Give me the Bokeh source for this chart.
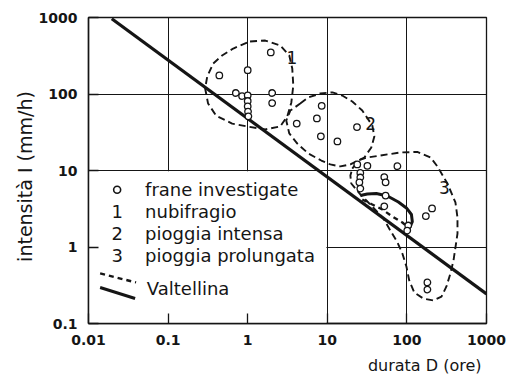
from bokeh.plotting import figure
from bokeh.models import FixedTicker, Title
from bokeh.core.properties import value
from bokeh.embed import file_html
from bokeh.resources import INLINE

FONT = "DejaVu Sans"
INK = "#151515"

# Investigated landslides: rainfall duration D (hours) and intensity I (mm/h)
frane_D = [0.44, 1.0, 1.95, 0.71, 0.85, 1.0, 1.0, 1.0, 1.01, 1.02, 2.03, 2.03,
           4.13, 7.4, 8.5, 8.3, 13.4, 23.6,
           23.8, 31.9, 26, 26, 25.3, 26, 52, 54, 76, 54, 52,
           104, 101, 173, 207, 181, 181]
frane_I = [175, 205, 350, 103, 94, 96, 81, 69, 59, 51, 103, 76,
           41, 48, 70, 28, 24, 37,
           12.0, 11.5, 9.3, 8.1, 7.0, 5.8, 8.2, 7.0, 11.4, 4.7, 3.4,
           1.91, 1.64, 2.54, 3.19, 0.344, 0.278]

# Threshold line I(D)
soglia_D = [0.0196, 1000]
soglia_I = [962, 0.244]

# Envelope 1: nubifragio
nubifragio_D = [1.07, 1.66, 2.56, 3.33, 3.63, 3.74, 3.53, 3.14, 2.56, 1.66, 0.986,
                0.638, 0.402, 0.318, 0.292, 0.310, 0.368, 0.477, 0.658, 1.07]
nubifragio_I = [486, 500, 431, 319, 215, 129, 77, 51, 37.6, 34.4, 37.6,
                41, 52, 75, 118, 169, 250, 319, 393, 486]

# Envelope 2: pioggia intensa
intensa_D = [4.57, 5.77, 8.17, 11.6, 15.4, 20.6, 27.5, 36.8, 39.0, 35.7, 29.2,
             19.5, 14.6, 10.9, 8.41, 5.77, 4.20, 3.33, 3.05, 3.43, 4.57]
intensa_I = [75, 90, 101.5, 105, 95.5, 79.8, 60.8, 38.7, 27.8, 20.0, 14.8,
             12.0, 11.3, 12.0, 13.5, 16.7, 22.5, 30.5, 45, 60.8, 75]

# Envelope 3: pioggia prolungata
prolungata_D = [20.6, 24.5, 31.8, 46.4, 82.8, 135, 198, 242, 323, 407, 432, 432,
                407, 385, 352, 314, 272, 215, 161, 124, 107, 98.6, 87.7, 76.0,
                62.0, 50.6, 36.8, 26.0, 20.0, 19.5, 20.6]
prolungata_I = [10.6, 13.5, 14.8, 15.7, 17.2, 17.5, 14.8, 11.3, 6.76, 3.82, 2.43, 1.50,
                0.984, 0.667, 0.451, 0.305, 0.225, 0.200, 0.212, 0.254, 0.365, 0.556,
                0.822, 1.15, 1.64, 2.36, 3.38, 4.86, 6.76, 8.6, 10.6]

# Valtellina events: solid upper boundary and dashed lower boundary
valt_solid_D = [26.0, 31.8, 41.3, 56.9, 78.2, 98.6, 114, 117, 107]
valt_solid_I = [4.71, 4.93, 5.0, 4.64, 3.87, 3.24, 2.66, 2.15, 1.74]
valt_dash_D = [27.5, 36.8, 49.2, 65.8, 87.7, 104]
valt_dash_I = [4.18, 3.59, 3.09, 2.50, 2.09, 1.80]

ticks = [0.01, 0.1, 1, 10, 100, 1000]
tick_labels = ["0.01", "0.1", "1", "10", "100", "1000"]

legend_keys = ["1", "2", "3"]
legend_texts = ["frane investigate", "nubifragio", "pioggia intensa",
                "pioggia prolungata", "Valtellina"]

p = figure(width=507, height=383, x_axis_type="log", y_axis_type="log",
           x_range=(0.01, 1000), y_range=(0.1, 1000),
           output_backend="svg", toolbar_location=None,
           min_border_left=88, min_border_right=21,
           min_border_top=17, min_border_bottom=60)
p.background_fill_color = "white"
p.border_fill_color = "white"
p.outline_line_color = INK
p.outline_line_width = 1.3

# grid
p.xgrid.ticker = FixedTicker(ticks=[0.1, 1, 10, 100])
p.ygrid.ticker = FixedTicker(ticks=[1, 10, 100])
for g in (p.xgrid, p.ygrid):
    g.grid_line_color = INK
    g.grid_line_width = 1
    g.grid_line_alpha = 1

# axes
for ax in (p.xaxis, p.yaxis):
    ax.ticker = FixedTicker(ticks=ticks)
    ax.major_label_overrides = dict(zip(ticks, tick_labels))
    ax.axis_line_color = INK
    ax.axis_line_width = 1.5
    ax.major_tick_line_color = INK
    ax.major_tick_line_width = 1.3
    ax.major_tick_in = 10
    ax.major_tick_out = 0
    ax.minor_tick_line_color = None
    ax.major_label_text_font = FONT
    ax.major_label_text_font_style = "bold"
    ax.major_label_text_font_size = "14px"
    ax.major_label_text_color = INK
    ax.major_label_standoff = 11

p.yaxis.axis_label = "intensità  I  (mm/h)"
p.yaxis.axis_label_text_font = FONT
p.yaxis.axis_label_text_font_style = "normal"
p.yaxis.axis_label_text_font_size = "19px"
p.yaxis.axis_label_text_color = INK
p.yaxis.axis_label_standoff = 0

# x-axis title, set flush right under the axis
p.add_layout(Title(text="durata D (ore)", align="right", offset=5,
                   text_font=FONT, text_font_size="16px",
                   text_font_style="normal", text_color=INK, standoff=13),
             "below")

# blank panel behind the legend text
p.quad(left=[0.005], right=[9.75], bottom=[0.05], top=[9.75],
       fill_color="white", line_color=None)

dash_style = dict(line_color=INK, line_width=1.9, line_dash="7 4")
p.line(nubifragio_D, nubifragio_I, **dash_style)
p.line(intensa_D, intensa_I, **dash_style)
p.line(prolungata_D, prolungata_I, **dash_style)

p.line(soglia_D, soglia_I, line_color=INK, line_width=3.2)
p.line(valt_solid_D, valt_solid_I, line_color=INK, line_width=3.0)
p.line(valt_dash_D, valt_dash_I, line_color=INK, line_width=2.4, line_dash="5 4")

p.scatter(frane_D, frane_I, marker="circle", size=6.5,
          fill_color="white", line_color=INK, line_width=1.3)

# envelope numbers
p.text(x=[3.6, 35, 297], y=[300, 41, 6.0], text=legend_keys,
       text_font=value(FONT), text_font_size="17px", text_color=INK,
       text_align="center", text_baseline="middle")

# legend
row_y = [5.6, 2.94, 1.50, 0.774, 0.284]
p.scatter([0.0229], [row_y[0]], marker="circle", size=7,
          fill_color="white", line_color=INK, line_width=1.6)
p.text(x=[0.0229] * 3, y=row_y[1:4], text=legend_keys,
       text_font=value(FONT), text_font_size="18px", text_color=INK,
       text_align="center", text_baseline="middle")
p.text(x=[0.0514] * 4 + [0.054], y=row_y, text=legend_texts,
       text_font=value(FONT), text_font_size="18px", text_color=INK,
       text_align="left", text_baseline="middle")
p.line([0.0140, 0.0396], [0.451, 0.344], line_color=INK, line_width=2.4, line_dash="5 4")
p.line([0.0140, 0.0385], [0.296, 0.212], line_color=INK, line_width=3.0)

open("out.html", "w").write(file_html(p, INLINE))
